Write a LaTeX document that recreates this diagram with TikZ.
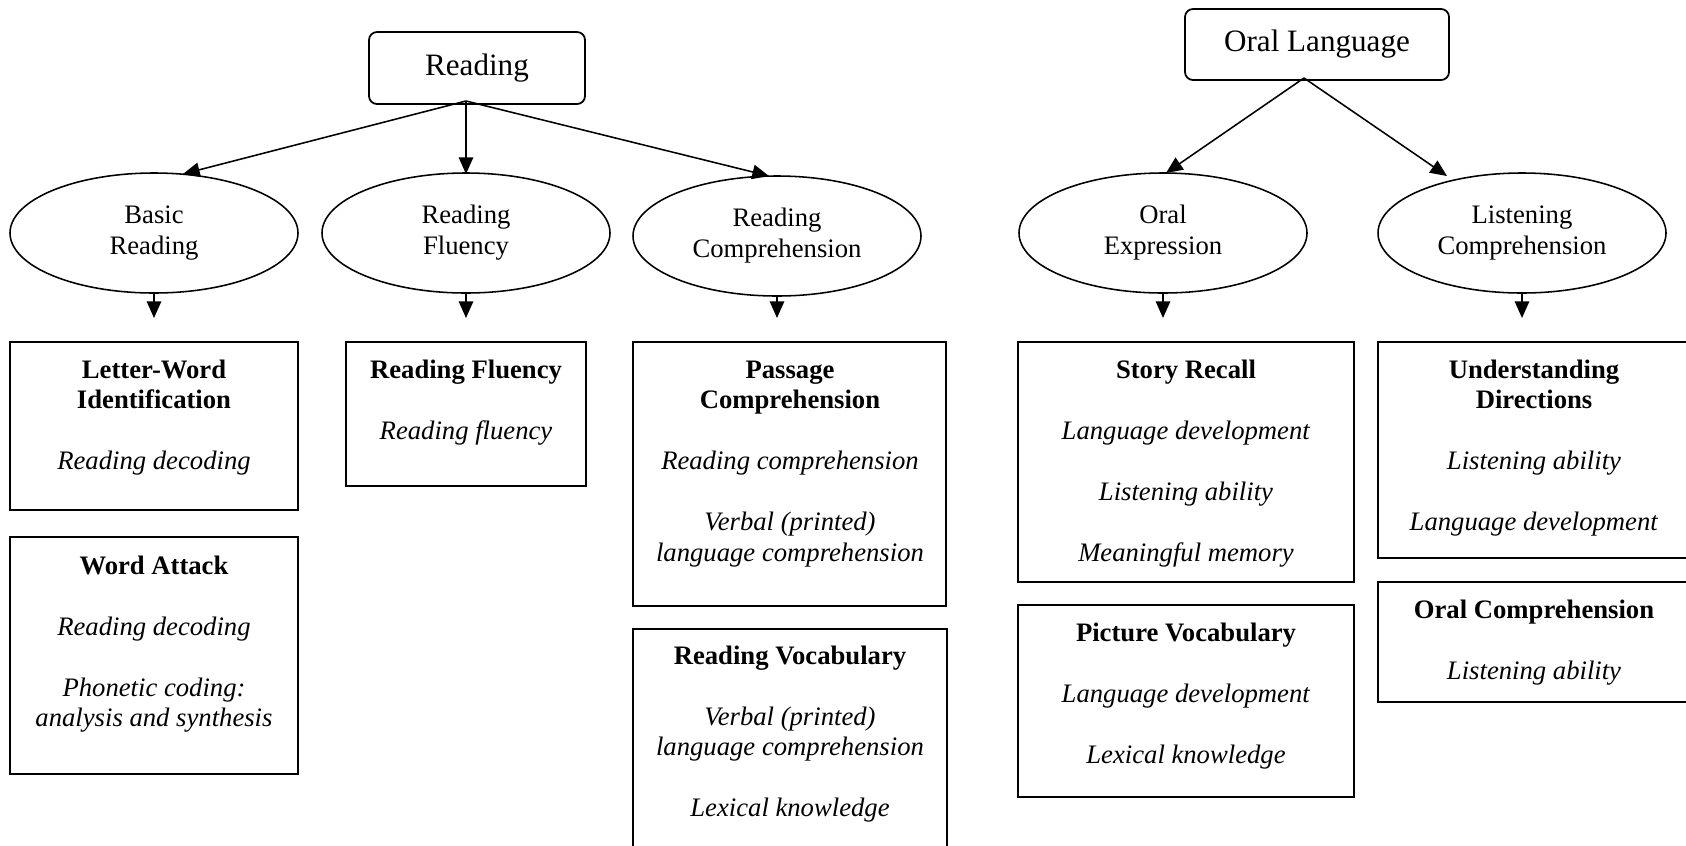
\documentclass[tikz,border=0pt]{standalone}
\usepackage{fontspec}
\setmainfont{Liberation Serif}
\usetikzlibrary{arrows.meta,shapes.geometric,fit}
\newcommand{\bl}{\\[13.75pt]}
\tikzset{
  topbox/.style={draw, rounded corners=3.6pt, line width=0.8pt, inner sep=0pt, font=\fontsize{14}{16}\selectfont},
  ell/.style={draw, ellipse, line width=0.7pt, inner sep=0pt, minimum width=129.6pt, minimum height=54pt, align=center, font=\fontsize{12}{14}\selectfont},
  box/.style={draw, rectangle, line width=0.9pt, inner sep=0pt},
  txt/.style={anchor=base, inner sep=0pt, font=\fontsize{12}{13.75}\selectfont},
  arr/.style={line width=0.7pt, -{Triangle[length=7.5pt,width=6.5pt]}}
}
\newcommand{\tb}[1]{\renewcommand{\arraystretch}{1}\begin{tabular}[t]{@{}c@{}}#1\end{tabular}}
\begin{document}
\begin{tikzpicture}[x=0.45pt,y=-0.45pt]
\useasboundingbox (0,0) rectangle (1686,845);
\clip (0,0) rectangle (1686,845);
% top boxes
\node[topbox, fit={(369,32) (585,104)}] (reading) {};
\node[txt, font=\fontsize{14}{16}\selectfont] (readingt) at (477,75) {Reading};
\node[topbox, fit={(1185,9) (1449,80)}] (oral) {};
\node[txt, font=\fontsize{14}{16}\selectfont] (oralt) at (1317,51.5) {Oral Language};
% ellipses
\node[ell] (ebr) at (154,233) {Basic\\Reading};
\node[ell] (erf) at (466,233) {Reading\\Fluency};
\node[ell] (erc) at (777,236) {Reading\\Comprehension};
\node[ell] (eoe) at (1163,233) {Oral\\Expression};
\node[ell] (elc) at (1522,233) {Listening\\Comprehension};
% connector points
\coordinate (rsrc) at (466,101);
\coordinate (tbr) at (183,174);
\coordinate (trf) at (466,174);
\coordinate (trc) at (769,176);
\coordinate (osrc) at (1304,78);
\coordinate (toe) at (1166,173);
\coordinate (tlc) at (1447,176);
\draw[arr] (rsrc) -- (tbr);
\draw[arr] (rsrc) -- (trf);
\draw[arr] (rsrc) -- (trc);
\draw[arr] (osrc) -- (toe);
\draw[arr] (osrc) -- (tlc);
\coordinate (abr) at (154,318);
\coordinate (arf) at (466,318);
\coordinate (arc) at (777,318);
\coordinate (aoe) at (1163,318);
\coordinate (alc) at (1522,318);
\draw[arr] (ebr.south) -- (abr);
\draw[arr] (erf.south) -- (arf);
\draw[arr] (erc.south) -- (arc);
\draw[arr] (eoe.south) -- (aoe);
\draw[arr] (elc.south) -- (alc);
% boxes
\node[box, fit={(10,342) (298,510)}] (lw) {};
\node[txt] (lwt) at (154,378) {\tb{\textbf{Letter-Word}\\ \textbf{Identification}\bl \textit{Reading decoding}}};
\node[box, fit={(10,537) (298,774)}] (wa) {};
\node[txt] (wat) at (154,574) {\tb{\textbf{Word Attack}\bl \textit{Reading decoding}\bl \textit{Phonetic coding:}\\ \textit{analysis and synthesis}}};
\node[box, fit={(346,342) (586,486)}] (rf) {};
\node[txt] (rft) at (466,378) {\tb{\textbf{Reading Fluency}\bl \textit{Reading fluency}}};
\node[box, fit={(633,342) (946,606)}] (pc) {};
\node[txt] (pct) at (790,378) {\tb{\textbf{Passage}\\ \textbf{Comprehension}\bl \textit{Reading comprehension}\bl \textit{Verbal (printed)}\\ \textit{language comprehension}}};
\node[box, fit={(633,629) (947,848)}] (rv) {};
\node[txt] (rvt) at (790,664) {\tb{\textbf{Reading Vocabulary}\bl \textit{Verbal (printed)}\\ \textit{language comprehension}\bl \textit{Lexical knowledge}}};
\node[box, fit={(1018,342) (1354,582)}] (sr) {};
\node[txt] (srt) at (1186,378) {\tb{\textbf{Story Recall}\bl \textit{Language development}\bl \textit{Listening ability}\bl \textit{Meaningful memory}}};
\node[box, fit={(1018,605) (1354,797)}] (pv) {};
\node[txt] (pvt) at (1186,641) {\tb{\textbf{Picture Vocabulary}\bl \textit{Language development}\bl \textit{Lexical knowledge}}};
\node[box, fit={(1378,342) (1692,558)}] (ud) {};
\node[txt] (udt) at (1534,378) {\tb{\textbf{Understanding}\\ \textbf{Directions}\bl \textit{Listening ability}\bl \textit{Language development}}};
\node[box, fit={(1378,582) (1692,702)}] (oc) {};
\node[txt] (oct) at (1534,618) {\tb{\textbf{Oral Comprehension}\bl \textit{Listening ability}}};
\end{tikzpicture}
\end{document}
